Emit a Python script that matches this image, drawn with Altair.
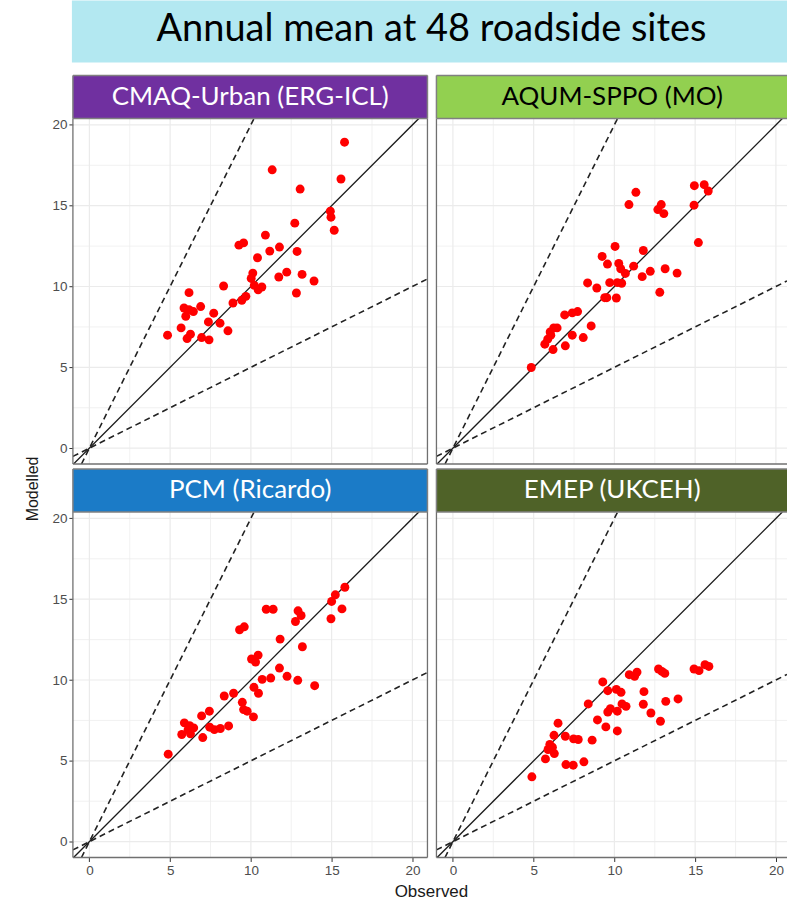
import altair as alt
import pandas as pd

TITLE = "Annual mean at 48 roadside sites"
MODELS = ["CMAQ-Urban (ERG-ICL)", "AQUM-SPPO (MO)", "PCM (Ricardo)", "EMEP (UKCEH)"]
STRIP_FILL = ["#7030a0", "#92d050", "#1b7bc7", "#4f6228"]
STRIP_TEXT = ["#ffffff", "#000000", "#ffffff", "#ffffff"]
X_TITLE = "Observed"
Y_TITLE = "Modelled"
TICKS = [0, 5, 10, 15, 20]
MINOR = [2.5, 7.5, 12.5, 17.5]
SLOPES = [1, 2, 0.5]

cmaq_obs = [15.8, 11.32, 15.58, 13.05, 14.92, 14.96, 15.16, 12.72, 10.9, 9.26, 9.55, 11.77, 11.17, 12.86, 10.41,
            10.12, 10.02, 12.22, 11.73, 13.17, 13.91, 10.21, 10.45, 10.68, 12.82, 8.31, 9.69, 9.44, 8.89, 6.17,
            5.86, 6.17, 6.44, 6.89, 5.97, 7.7, 7.37, 8.09, 5.68, 8.58, 4.84, 6.26, 6.05, 6.95, 7.41]
cmaq_mod = [18.93, 17.22, 16.65, 16.03, 14.66, 14.29, 13.48, 13.92, 13.18, 12.56, 12.7, 12.44, 12.19, 12.17, 11.78,
            10.83, 10.5, 10.89, 10.59, 10.75, 10.34, 10.07, 9.8, 9.97, 9.6, 10.03, 9.39, 9.15, 8.98, 9.62,
            8.67, 8.57, 8.45, 8.76, 8.16, 8.35, 7.81, 7.73, 7.44, 7.26, 6.99, 7.05, 6.78, 6.84, 6.7]

aqum_obs = [14.95, 15.56, 15.81, 11.33, 10.9, 12.9, 12.69, 13.06, 14.93, 15.2, 10.04, 11.79, 9.24, 9.57, 10.27,
            10.39, 10.68, 11.19, 12.22, 13.14, 13.88, 11.72, 8.34, 8.91, 9.71, 10.18, 10.45, 12.81, 9.4, 9.53,
            10.12, 6.92, 7.39, 7.72, 8.56, 6.24, 6.45, 6.02, 6.06, 5.87, 5.69, 7.39, 8.07, 6.2, 6.96, 4.85]
aqum_mod = [16.24, 16.3, 15.91, 15.83, 15.07, 15.07, 14.76, 14.51, 15.03, 12.72, 12.48, 12.23, 11.86, 11.39, 11.43,
            11.1, 10.81, 11.26, 10.94, 11.1, 10.83, 10.61, 10.22, 9.91, 10.24, 10.24, 10.2, 9.64, 9.31, 9.31,
            9.29, 8.24, 8.37, 8.45, 7.56, 7.44, 7.44, 7.19, 6.99, 6.74, 6.43, 6.99, 6.84, 6.1, 6.33, 4.99]

pcm_obs = [15.82, 15.23, 15.0, 15.64, 14.96, 10.95, 11.38, 12.92, 13.11, 12.76, 9.3, 9.59, 11.81, 13.19, 10.04,
           10.45, 10.29, 11.77, 12.24, 12.9, 11.23, 10.7, 13.95, 10.19, 10.47, 8.35, 8.93, 9.47, 9.55, 9.77,
           10.16, 6.95, 7.43, 5.88, 6.21, 6.46, 7.45, 7.74, 8.11, 8.62, 5.72, 6.26, 6.11, 7.02, 4.88]
pcm_mod = [15.74, 15.27, 14.86, 14.4, 13.79, 14.38, 14.38, 14.28, 13.99, 13.62, 13.11, 13.29, 12.53, 12.06, 11.3,
           11.54, 11.11, 10.74, 10.23, 9.98, 10.12, 10.04, 9.65, 9.55, 9.18, 9.01, 9.18, 8.62, 8.17, 8.07,
           7.72, 7.78, 8.07, 7.35, 7.18, 7.04, 7.08, 6.93, 7.0, 7.16, 6.63, 6.67, 6.93, 6.44, 5.41]

emep_obs = [15.61, 15.85, 14.93, 15.24, 12.73, 12.94, 13.12, 10.92, 11.25, 11.4, 9.28, 9.59, 10.12, 10.41, 11.83,
            13.94, 13.18, 10.47, 10.72, 11.79, 12.26, 9.75, 9.59, 10.18, 8.38, 8.95, 9.47, 10.18, 12.85, 6.51,
            6.26, 6.96, 7.47, 7.76, 8.62, 6.0, 6.16, 5.89, 6.28, 5.73, 7.0, 7.45, 8.11, 4.89]
emep_mod = [10.95, 10.84, 10.68, 10.58, 10.68, 10.53, 10.41, 10.33, 10.23, 10.49, 9.88, 9.34, 9.42, 9.24, 9.28,
            8.83, 8.68, 8.52, 8.37, 8.5, 7.96, 8.23, 8.02, 8.07, 8.52, 7.53, 7.1, 6.85, 7.45, 7.33,
            6.58, 6.52, 6.36, 6.32, 6.28, 6.01, 5.84, 5.7, 5.45, 5.12, 4.77, 4.73, 4.94, 4.01]

SERIES = [(cmaq_obs, cmaq_mod), (aqum_obs, aqum_mod), (pcm_obs, pcm_mod), (emep_obs, emep_mod)]

# layout (pixels)
PX = 16.17          # pixels per data unit on x
XMIN = -1.02
YDOM = [-0.98, 20.4]
H = 346
WIDTHS = [355, 351]
STRIP_H = 43
AXIS_FONT = "Liberation Sans"
TITLE_FONT = "Lato"
BORDER = "#707070"
STRIP_BORDER = "#808080"
GRID = "#ebebeb"


def vrule(data, x, y0, y1, color, sw):
    return alt.Chart(data).mark_rule(color=color, strokeWidth=sw).encode(
        x=alt.value(x), y=alt.value(y0), y2=alt.value(y1))


def hrule(data, x0, x1, y, color, sw):
    return alt.Chart(data).mark_rule(color=color, strokeWidth=sw).encode(
        x=alt.value(x0), x2=alt.value(x1), y=alt.value(y))


def panel(i):
    col, row = i % 2, i // 2
    w = WIDTHS[col]
    obs, mod = SERIES[i]
    xdom = [XMIN, XMIN + w / PX]
    xs = alt.Scale(domain=xdom, nice=False, zero=False)
    ys = alt.Scale(domain=YDOM, nice=False, zero=False)
    axis_kw = dict(values=TICKS, grid=False, domain=False, ticks=True, tickSize=4,
                   tickColor="#333333", tickWidth=1, labelColor="#4d4d4d",
                   labelFont=AXIS_FONT, labelFontSize=13.5, labelPadding=2, title=None)
    xaxis = alt.Axis(**axis_kw) if row == 1 else None
    yaxis = alt.Axis(**axis_kw) if col == 0 else None

    def X(field):
        return alt.X(field, type="quantitative", scale=xs, axis=xaxis)

    def Y(field):
        return alt.Y(field, type="quantitative", scale=ys, axis=yaxis)

    layers = []
    if i == 0:
        one = pd.DataFrame({"t": [TITLE]})
        layers.append(alt.Chart(one).mark_rect(opacity=0).encode(
            x=alt.value(-73), x2=alt.value(0), y=alt.value(-118), y2=alt.value(0)))
        layers.append(alt.Chart(one).mark_rect(fill="#b3e8f1").encode(
            x=alt.value(-1), x2=alt.value(715), y=alt.value(-118), y2=alt.value(-56)))
        layers.append(alt.Chart(one).mark_text(font=TITLE_FONT, fontSize=38, color="#000000",
                                               align="center", baseline="middle").encode(
            x=alt.value(359), y=alt.value(-89), text="t:N"))

    gx = pd.DataFrame({"v": TICKS + MINOR, "major": [1] * len(TICKS) + [0] * len(MINOR)})
    sw_scale = alt.Scale(domain=[0, 1], range=[0.7, 1.2])
    layers.append(alt.Chart(gx).mark_rule(color=GRID).encode(
        x=X("v"), strokeWidth=alt.StrokeWidth("major:N", scale=sw_scale, legend=None)))
    layers.append(alt.Chart(gx).mark_rule(color=GRID).encode(
        y=Y("v"), strokeWidth=alt.StrokeWidth("major:N", scale=sw_scale, legend=None)))

    rows = []
    for s in SLOPES:
        x0 = max(xdom[0], YDOM[0] / s)
        x1 = min(xdom[1], YDOM[1] / s)
        rows += [{"s": s, "x": x0, "y": x0 * s}, {"s": s, "x": x1, "y": x1 * s}]
    lines = pd.DataFrame(rows)
    layers.append(alt.Chart(lines[lines.s == 1]).mark_line(color="#1a1a1a", strokeWidth=1.3, clip=True).encode(
        x=X("x"), y=Y("y")))
    layers.append(alt.Chart(lines[lines.s != 1]).mark_line(color="#222222", strokeWidth=1.6,
                                                          strokeDash=[6, 4], clip=True).encode(
        x=X("x"), y=Y("y"), detail="s:N"))

    pts = pd.DataFrame({"obs": obs, "mod": mod})
    layers.append(alt.Chart(pts).mark_circle(color="#ff0000", size=80, opacity=1).encode(
        x=X("obs"), y=Y("mod")))

    one = pd.DataFrame({"t": [MODELS[i]]})
    layers.append(vrule(one, 0, 0, H, BORDER, 1.3))
    layers.append(hrule(one, 0, w, H, BORDER, 1.3))
    if col == 0:
        layers.append(vrule(one, w, 0, H, BORDER, 1.3))

    # facet strip
    layers.append(alt.Chart(one).mark_rect(fill=STRIP_FILL[i]).encode(
        x=alt.value(0), x2=alt.value(w), y=alt.value(-STRIP_H), y2=alt.value(0)))
    layers.append(hrule(one, 0, w, -STRIP_H, STRIP_BORDER, 1.5))
    layers.append(hrule(one, 0, w, 0, STRIP_BORDER, 1.5))
    layers.append(vrule(one, 0, -STRIP_H, 0, STRIP_BORDER, 1.5))
    if col == 0:
        layers.append(vrule(one, w, -STRIP_H, 0, STRIP_BORDER, 1.5))
    layers.append(alt.Chart(one).mark_text(font=TITLE_FONT, fontSize=26, color=STRIP_TEXT[i],
                                           align="center", baseline="middle").encode(
        x=alt.value(w / 2 if col == 0 else 176), y=alt.value(-STRIP_H / 2), text="t:N"))

    if i == 0:
        t = pd.DataFrame({"t": [Y_TITLE]})
        layers.append(alt.Chart(t).mark_text(font=AXIS_FONT, fontSize=16, color="#1a1a1a", angle=270,
                                             align="center", baseline="middle").encode(
            x=alt.value(-40), y=alt.value(371), text="t:N"))
    if i == 2:
        t = pd.DataFrame({"t": [X_TITLE]})
        layers.append(alt.Chart(t).mark_text(font=AXIS_FONT, fontSize=17, color="#1a1a1a",
                                             align="center", baseline="middle").encode(
            x=alt.value(359), y=alt.value(381), text="t:N"))

    return alt.layer(*layers).properties(width=w, height=H)


chart = alt.concat(*[panel(i) for i in range(4)], columns=2,
                   spacing={"row": 48, "column": 9}, bounds="flush").properties(
    padding=0, background="#ffffff"
).configure_view(strokeWidth=0)

chart.save("out.html", embed_options={"renderer": "svg", "actions": False})
